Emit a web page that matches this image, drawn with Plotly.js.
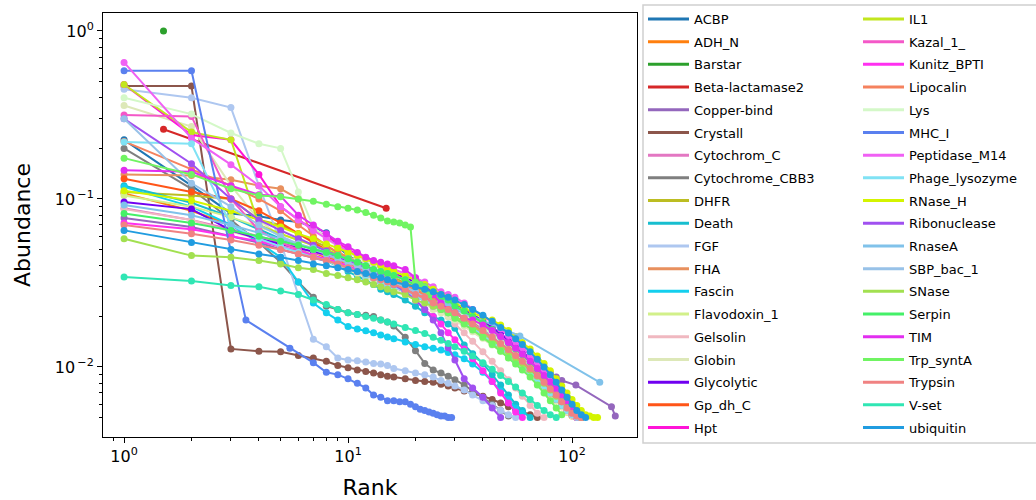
<!DOCTYPE html>
<html>
<head>
<meta charset="utf-8">
<script src="https://cdn.plot.ly/plotly-3.0.1.min.js"></script>
<style>
  html, body { margin: 0; padding: 0; background: #fff; }
  #chart { width: 1036px; height: 500px; }
</style>
</head>
<body>
<div id="chart"></div>
<script>
// Rank-abundance curves per protein family (log-log).

// Shared rank grid used by most families (ranks where a point is recorded).
const rankGrid = [1,2,3,4,5,6,7,8,9,10,11,12,13,14,15,16,18,20,22,24,26,28,30,33,36,40,44,48,52,56,60,65,70,75,80,85,90,95,100,105,110,115,120,125,130,135,140];

const families = ["ACBP","ADH_N","Barstar","Beta-lactamase2","Copper-bind","Crystall","Cytochrom_C","Cytochrome_CBB3","DHFR","Death","FGF","FHA","Fascin","Flavodoxin_1","Gelsolin","Globin","Glycolytic","Gp_dh_C","Hpt","IL1","Kazal_1_","Kunitz_BPTI","Lipocalin","Lys","MHC_I","Peptidase_M14","Phage_lysozyme","RNase_H","Ribonuclease","RnaseA","SBP_bac_1","SNase","Serpin","TIM","Trp_syntA","Trypsin","V-set","ubiquitin"];

const colors = ["#1f77b4","#ff7f0e","#2ca02c","#d62728","#9467bd","#8c564b","#e377c2","#7f7f7f","#bcbd22","#17becf","#aec7f0","#e8905e","#14cfee","#d2f08a","#f0b8c0","#dde8b8","#7000f0","#ff5518","#ff14d8","#c2e61e","#f458c8","#ff30f0","#f5825e","#d4f8c8","#5a80ef","#f060f4","#80e2f4","#d4f400","#a050f0","#80c2ea","#98c2e8","#a2e050","#44f068","#e22ef0","#70f462","#f08282","#30e6b4","#209ce0"];

// Abundance values per family, in rank order.
const ACBP = [0.225,0.12,0.082,0.079,0.075,0.073,0.068,0.063,0.052,0.046,0.043,0.041,0.039,0.037,0.036,0.035,0.033,0.031,0.029,0.027,0.025,0.024,0.022,0.020,0.019,0.017,0.0155,0.0142,0.013,0.0121,0.0112,0.0101,0.0092,0.0083,0.0075,0.0068,0.0062,0.0057,0.0053];
const ADH_N = [0.108,0.085,0.07,0.058,0.052,0.05,0.047,0.045,0.043,0.04,0.038,0.036,0.035,0.033,0.031,0.030,0.028,0.026,0.025,0.023,0.022,0.021,0.0195,0.018,0.0168,0.0152,0.0138,0.0127,0.0118,0.011,0.0101,0.0092,0.0084,0.0076,0.0069,0.0063,0.0058,0.0054,0.0051];
const Barstar_rank = [1.5];
const Barstar = [1.0];
const BetaLactamase2_rank = [1.5, 14.8];
const BetaLactamase2 = [0.26, 0.088];
const CopperBind_rank = [1,2,3,4,5,6,7,8,9,10,11,12,13,14,15,16,18,20,22,24,26,28,30,33,36,40,44,48,52,56,60,65,70,75,80,85,90,104,150,156];
const CopperBind = [0.077,0.068,0.06,0.055,0.05,0.047,0.045,0.043,0.041,0.039,0.037,0.035,0.034,0.033,0.032,0.031,0.029,0.027,0.026,0.025,0.024,0.023,0.022,0.0205,0.019,0.0175,0.016,0.0148,0.0137,0.0128,0.012,0.0112,0.0105,0.0098,0.0092,0.0087,0.0083,0.0078,0.0058,0.0051];
const Crystall = [0.47,0.47,0.0128,0.0124,0.0123,0.0117,0.0113,0.0108,0.0102,0.0099,0.0096,0.0094,0.0092,0.0090,0.0088,0.0087,0.0085,0.0083,0.0082,0.0081,0.0079,0.0077,0.0075,0.0072,0.007,0.0067,0.0064,0.0061,0.0058,0.0056,0.0054,0.0052,0.0050];
const CytochromC = [0.088,0.075,0.066,0.06,0.055,0.051,0.048,0.046,0.044,0.042,0.04,0.038,0.036,0.034,0.033,0.032,0.03,0.028,0.027,0.025,0.024,0.023,0.021,0.0195,0.018,0.0163,0.0149,0.0136,0.0125,0.0116,0.0108,0.0098,0.009,0.0082,0.0075,0.0068,0.0062,0.0058,0.0054,0.0052,0.005];
const CytochromeCBB3 = [0.20,0.115,0.075,0.055,0.042,0.032,0.026,0.023,0.022,0.021,0.0205,0.0203,0.020,0.019,0.0185,0.0175,0.015,0.0125,0.0105,0.0096,0.0092,0.0088,0.0084,0.0078,0.0072,0.0066,0.006,0.0055,0.0051];
const DHFR = [0.11,0.105,0.10,0.075,0.07,0.062,0.056,0.052,0.048,0.045,0.043,0.041,0.039,0.037,0.035,0.034,0.032,0.030,0.028,0.026,0.025,0.023,0.022,0.020,0.0185,0.0168,0.0153,0.014,0.013,0.012,0.0111,0.0101,0.0092,0.0084,0.0077,0.007,0.0064,0.0059,0.0055,0.0052,0.005];
const Death = [0.12,0.095,0.078,0.066,0.058,0.052,0.047,0.043,0.04,0.037,0.035,0.033,0.031,0.029,0.028,0.027,0.025,0.023,0.021,0.02,0.019,0.018,0.017,0.0135,0.012,0.0105,0.009,0.0078,0.0068,0.006,0.0055,0.005];
const FGF = [0.45,0.40,0.35,0.12,0.055,0.027,0.0146,0.0132,0.0113,0.011,0.0109,0.0107,0.0105,0.0104,0.0102,0.0098,0.0095,0.0092,0.009,0.0087,0.0083,0.008,0.0077,0.0073,0.0068,0.0063,0.0059,0.0055,0.0052,0.005];
const FHA = [0.14,0.138,0.13,0.12,0.115,0.10,0.056,0.048,0.044,0.041,0.039,0.037,0.035,0.034,0.032,0.031,0.029,0.027,0.025,0.024,0.023,0.022,0.021,0.0195,0.018,0.0165,0.015,0.0137,0.0126,0.0117,0.0109,0.01,0.0092,0.0084,0.0077,0.007,0.0064,0.0059,0.0055,0.0052,0.005];
const Fascin = [0.118,0.09,0.07,0.055,0.045,0.032,0.024,0.021,0.019,0.0174,0.0168,0.0164,0.016,0.0155,0.0151,0.0147,0.0141,0.0136,0.0132,0.0129,0.0126,0.0122,0.0118,0.0112,0.0104,0.0093,0.0082,0.0072,0.0064,0.0057,0.0053];
const Flavodoxin1 = [0.105,0.09,0.078,0.068,0.062,0.057,0.053,0.05,0.047,0.045,0.043,0.041,0.039,0.038,0.036,0.035,0.033,0.031,0.029,0.027,0.026,0.025,0.023,0.0215,0.02,0.018,0.0165,0.015,0.0138,0.0128,0.0119,0.0108,0.0098,0.0089,0.0081,0.0074,0.0068,0.0063,0.0059,0.0056,0.0053,0.0051];
const Gelsolin = [0.087,0.075,0.064,0.058,0.053,0.049,0.046,0.044,0.042,0.04,0.038,0.036,0.035,0.034,0.033,0.032,0.03,0.028,0.026,0.024,0.022,0.02,0.018,0.016,0.0142,0.0123,0.0108,0.0095,0.0084,0.0075,0.0067,0.0059,0.0053,0.005];
const Globin = [0.36,0.27,0.12,0.075,0.06,0.052,0.047,0.043,0.04,0.038,0.036,0.034,0.033,0.031,0.03,0.029,0.027,0.025,0.024,0.022,0.021,0.02,0.019,0.0175,0.0162,0.0148,0.0135,0.0124,0.0114,0.0106,0.0098,0.009,0.0082,0.0075,0.0069,0.0063,0.0058,0.0054,0.0051];
const Glycolytic = [0.096,0.087,0.065,0.058,0.054,0.051,0.049,0.047,0.045,0.043,0.042,0.041,0.04,0.038,0.037,0.036,0.034,0.032,0.03,0.028,0.027,0.025,0.024,0.022,0.0205,0.0188,0.0172,0.0158,0.0145,0.0134,0.0124,0.0112,0.0101,0.0091,0.0082,0.0074,0.0067,0.0061,0.0056,0.0052];
const GpDhC = [0.132,0.11,0.10,0.085,0.072,0.062,0.055,0.05,0.046,0.044,0.042,0.04,0.038,0.036,0.035,0.033,0.031,0.029,0.027,0.025,0.024,0.022,0.021,0.0195,0.018,0.0162,0.0147,0.0134,0.0123,0.0113,0.0104,0.0094,0.0085,0.0077,0.007,0.0064,0.0059,0.0055,0.0052,0.005];
const Hpt = [0.48,0.24,0.225,0.14,0.09,0.075,0.066,0.06,0.055,0.05,0.047,0.044,0.042,0.04,0.038,0.036,0.033,0.031,0.029,0.027,0.025,0.024,0.022,0.0205,0.019,0.017,0.0155,0.0142,0.013,0.012,0.0111,0.0101,0.0092,0.0083,0.0075,0.0068,0.0062,0.0057,0.0053,0.005];
const IL1 = [0.48,0.25,0.225,0.07,0.062,0.057,0.053,0.05,0.047,0.044,0.042,0.04,0.038,0.036,0.034,0.033,0.031,0.029,0.027,0.025,0.024,0.023,0.021,0.0195,0.018,0.0163,0.0148,0.0136,0.0125,0.0115,0.0107,0.0097,0.0088,0.008,0.0073,0.0067,0.0061,0.0057,0.0053,0.0051,0.005];
const Kazal1 = [0.316,0.31,0.10,0.065,0.055,0.05,0.046,0.043,0.041,0.039,0.037,0.035,0.034,0.032,0.031,0.03,0.028,0.026,0.025,0.023,0.022,0.021,0.02,0.0185,0.0172,0.0157,0.0143,0.0131,0.012,0.0111,0.0103,0.0094,0.0086,0.0078,0.0071,0.0065,0.006,0.0055,0.0052,0.005];
const KunitzBPTI = [0.072,0.066,0.06,0.056,0.052,0.049,0.046,0.044,0.042,0.04,0.038,0.036,0.034,0.032,0.031,0.03,0.028,0.025,0.022,0.02,0.018,0.016,0.0145,0.0128,0.0112,0.0095,0.0082,0.007,0.0061,0.0054,0.005];
const Lipocalin = [0.22,0.15,0.12,0.10,0.085,0.07,0.06,0.053,0.048,0.045,0.042,0.04,0.038,0.036,0.034,0.033,0.031,0.029,0.027,0.025,0.024,0.023,0.021,0.0195,0.018,0.0164,0.0149,0.0137,0.0126,0.0116,0.0107,0.0097,0.0088,0.008,0.0073,0.0067,0.0061,0.0057,0.0053,0.0051,0.005];
const Lys = [0.40,0.32,0.247,0.213,0.20,0.11,0.068,0.058,0.052,0.048,0.045,0.042,0.04,0.038,0.036,0.035,0.033,0.031,0.029,0.027,0.025,0.024,0.022,0.0205,0.019,0.0172,0.0157,0.0143,0.0131,0.0121,0.0112,0.0102,0.0093,0.0085,0.0078,0.0071,0.0065,0.006,0.0056,0.0053,0.0051];
const MHCI_rank = [1,2,3.5,5.5,7,8,9,10,11,12,13,14,15,16,17,18,19,20,21,22,23,24,25,26,27,28,29];
const MHCI = [0.58,0.58,0.019,0.0129,0.0106,0.0093,0.009,0.0085,0.008,0.0075,0.0068,0.0066,0.0063,0.0063,0.0062,0.0062,0.006,0.0058,0.0056,0.0055,0.0054,0.0053,0.0052,0.0051,0.0051,0.005,0.005];
const PeptidaseM14 = [0.65,0.23,0.16,0.12,0.09,0.075,0.065,0.058,0.053,0.049,0.046,0.044,0.042,0.04,0.039,0.038,0.036,0.034,0.032,0.03,0.028,0.027,0.026,0.024,0.022,0.02,0.0185,0.0168,0.0154,0.0141,0.013,0.0117,0.0105,0.0094,0.0084,0.0075,0.0067,0.0061,0.0056,0.0052,0.005];
const PhageLysozyme = [0.218,0.213,0.07,0.058,0.052,0.048,0.045,0.043,0.041,0.039,0.037,0.035,0.034,0.032,0.031,0.03,0.028,0.026,0.025,0.023,0.022,0.021,0.02,0.0185,0.017,0.0155,0.0141,0.0129,0.0119,0.011,0.0102,0.0093,0.0085,0.0077,0.007,0.0064,0.0059,0.0055,0.0052];
const RNaseH = [0.112,0.098,0.085,0.075,0.068,0.062,0.058,0.054,0.051,0.048,0.046,0.044,0.042,0.04,0.038,0.037,0.035,0.033,0.031,0.029,0.027,0.026,0.024,0.0225,0.021,0.0198,0.019,0.0178,0.0165,0.0152,0.014,0.0128,0.0116,0.0105,0.0095,0.0085,0.0077,0.007,0.0064,0.0059,0.0055,0.0052,0.0051,0.005,0.005];
const Ribonuclease = [0.30,0.162,0.10,0.075,0.065,0.058,0.053,0.049,0.046,0.043,0.041,0.039,0.037,0.035,0.033,0.031,0.028,0.025,0.022,0.019,0.016,0.013,0.011,0.0085,0.0075,0.0066,0.0057,0.005];
const RnaseA_rank = [1,2,3,4,5,6,7,8,9,10,11,12,13,14,15,16,18,20,22,24,26,28,30,58.5,133];
const RnaseA = [0.092,0.08,0.07,0.063,0.058,0.054,0.051,0.048,0.046,0.044,0.042,0.04,0.038,0.037,0.036,0.035,0.033,0.031,0.029,0.027,0.025,0.024,0.022,0.0153,0.0081];
const SBPbac1 = [0.30,0.124,0.09,0.07,0.06,0.054,0.05,0.047,0.044,0.042,0.04,0.038,0.036,0.034,0.033,0.032,0.03,0.028,0.026,0.024,0.023,0.022,0.021,0.0195,0.018,0.0165,0.015,0.0138,0.0127,0.0117,0.0108,0.0099,0.009,0.0082,0.0075,0.0068,0.0062,0.0057,0.0053,0.005];
const SNase = [0.058,0.046,0.045,0.043,0.041,0.039,0.038,0.036,0.035,0.034,0.033,0.032,0.031,0.03,0.029,0.028,0.027,0.025,0.024,0.023,0.022,0.021,0.02,0.0188,0.0175,0.016,0.0146,0.0134,0.0123,0.0113,0.0105,0.0096,0.0088,0.008,0.0073,0.0067,0.0062,0.0058,0.0054,0.0052,0.005];
const Serpin = [0.082,0.072,0.065,0.06,0.056,0.053,0.05,0.048,0.046,0.044,0.042,0.04,0.038,0.037,0.036,0.035,0.033,0.031,0.029,0.027,0.026,0.025,0.023,0.0215,0.02,0.0183,0.0167,0.0152,0.0139,0.0128,0.0118,0.0107,0.0097,0.0088,0.008,0.0073,0.0067,0.0062,0.0058,0.0054,0.0051];
const TIM = [0.148,0.145,0.12,0.106,0.104,0.08,0.07,0.062,0.056,0.052,0.048,0.045,0.043,0.042,0.041,0.04,0.038,0.034,0.03,0.027,0.024,0.022,0.021,0.0195,0.019,0.0178,0.0165,0.0152,0.014,0.0129,0.0119,0.0108,0.0098,0.0089,0.0081,0.0074,0.0068,0.0063,0.0058,0.0054,0.0051];
const TrpSyntA_rank = [1,2,3,4,5,6,7,8,9,10,11,12,13,14,15,16,17,18,19,20,21,22,23,24,26,28,30,33,36,40,44,48,52,56,60,65,70,75,80,85,90];
const TrpSyntA = [0.175,0.14,0.115,0.105,0.103,0.1,0.097,0.093,0.09,0.088,0.086,0.083,0.08,0.077,0.074,0.073,0.072,0.07,0.068,0.032,0.031,0.030,0.027,0.024,0.022,0.021,0.0195,0.018,0.0166,0.015,0.0136,0.0124,0.0113,0.0104,0.0096,0.0087,0.0078,0.007,0.0063,0.0057,0.0052];
const Trypsin = [0.07,0.062,0.057,0.053,0.05,0.047,0.045,0.043,0.041,0.039,0.037,0.036,0.034,0.033,0.032,0.031,0.029,0.027,0.026,0.024,0.023,0.022,0.021,0.0195,0.018,0.0165,0.0151,0.0138,0.0127,0.0117,0.0108,0.0098,0.0089,0.0081,0.0074,0.0068,0.0062,0.0057,0.0053,0.0051,0.005];
const Vset = [0.0343,0.0325,0.0305,0.030,0.0283,0.027,0.025,0.0235,0.022,0.021,0.0205,0.02,0.0195,0.019,0.0185,0.018,0.0172,0.0165,0.0158,0.015,0.0144,0.0138,0.0132,0.0124,0.0116,0.0106,0.0097,0.0089,0.0082,0.0076,0.007,0.0064,0.0059,0.0055,0.0052,0.005];
const ubiquitin = [0.065,0.055,0.05,0.047,0.045,0.043,0.041,0.04,0.039,0.038,0.037,0.036,0.035,0.034,0.033,0.032,0.031,0.03,0.029,0.028,0.027,0.026,0.025,0.0235,0.022,0.0203,0.0187,0.0172,0.0159,0.0147,0.0136,0.0123,0.0111,0.01,0.009,0.0081,0.0073,0.0066,0.006,0.0055,0.0052,0.005];

// Abundance arrays in family order; families without their own rank list use rankGrid.
const values = [ACBP, ADH_N, Barstar, BetaLactamase2, CopperBind, Crystall, CytochromC, CytochromeCBB3, DHFR, Death, FGF, FHA, Fascin, Flavodoxin1, Gelsolin, Globin, Glycolytic, GpDhC, Hpt, IL1, Kazal1, KunitzBPTI, Lipocalin, Lys, MHCI, PeptidaseM14, PhageLysozyme, RNaseH, Ribonuclease, RnaseA, SBPbac1, SNase, Serpin, TIM, TrpSyntA, Trypsin, Vset, ubiquitin];
const ownRanks = {
  "Barstar": Barstar_rank,
  "Beta-lactamase2": BetaLactamase2_rank,
  "Copper-bind": CopperBind_rank,
  "MHC_I": MHCI_rank,
  "RnaseA": RnaseA_rank,
  "Trp_syntA": TrpSyntA_rank
};

const xTickVals = [1, 10, 100];
const xTickText = ["10<sup>0</sup>", "10<sup>1</sup>", "10<sup>2</sup>"];
const yTickVals = [0.01, 0.1, 1];
const yTickText = ["10<sup>\u2009\u22122</sup>", "10<sup>\u2009\u22121</sup>", "10<sup>0</sup>"];
const xMinor = [0.9, 2, 3, 4, 5, 6, 7, 8, 9, 20, 30, 40, 50, 60, 70, 80, 90, 200];
const yMinor = [0.005, 0.006, 0.007, 0.008, 0.009, 0.02, 0.03, 0.04, 0.05, 0.06, 0.07, 0.08, 0.09, 0.2, 0.3, 0.4, 0.5, 0.6, 0.7, 0.8, 0.9];

const traces = [];
const legendEntries = [];
families.forEach((name, i) => {
  const y = values[i];
  const x = ownRanks[name] || rankGrid.slice(0, y.length);
  traces.push({
    type: "scatter", mode: "lines+markers", name: name,
    x: x, y: y,
    legendgroup: name, showlegend: false,
    line: { color: colors[i], width: 2 },
    marker: { color: colors[i], size: 7 },
    hoverinfo: "skip"
  });
  legendEntries.push({
    type: "scatter", mode: "lines", name: name,
    x: [null], y: [null],
    legendgroup: name, showlegend: true,
    legend: i < 19 ? "legend" : "legend2",
    line: { color: colors[i], width: 3 },
    hoverinfo: "skip"
  });
});

const L = 103, R = 637, T = 13, B = 437, W = 1036, H = 500;
const px2paperX = p => (p - L) / (R - L);
const px2paperY = p => (B - p) / (B - T);

const legendFont = { family: "DejaVu Sans", size: 13, color: "#000" };

const legendBase = {
  xanchor: "left", yanchor: "top", y: px2paperY(4),
  bgcolor: "rgba(0,0,0,0)", borderwidth: 0, maxheight: 480,
  font: legendFont, tracegroupgap: 2.8, itemwidth: 41,
  itemclick: false, itemdoubleclick: false
};

const layout = {
  width: W, height: H,
  margin: { l: L, r: W - R, t: T, b: H - B, pad: 0, autoexpand: false },
  paper_bgcolor: "#fff", plot_bgcolor: "#fff",
  font: { family: "DejaVu Sans", color: "#000" },
  showlegend: true,
  hovermode: false,
  xaxis: {
    type: "log", range: [-0.094, 2.29],
    showgrid: false, zeroline: false,
    showline: true, linecolor: "#000", linewidth: 1, mirror: true,
    ticks: "outside", ticklen: 5, tickwidth: 1, tickcolor: "#000",
    tickmode: "array", tickvals: xTickVals, ticktext: xTickText,
    tickfont: { family: "DejaVu Sans", size: 16, color: "#000" },
    minor: { tickmode: "array", tickvals: xMinor, ticks: "outside", ticklen: 3, tickwidth: 1, tickcolor: "#000", showgrid: false },
    title: { text: "Rank", font: { family: "DejaVu Sans", size: 22, color: "#000" }, standoff: 16 },
    automargin: false
  },
  yaxis: {
    type: "log", range: [-2.417, 0.107],
    showgrid: false, zeroline: false,
    showline: true, linecolor: "#000", linewidth: 1, mirror: true,
    ticks: "outside", ticklen: 5, tickwidth: 1, tickcolor: "#000",
    tickmode: "array", tickvals: yTickVals, ticktext: yTickText,
    tickfont: { family: "DejaVu Sans", size: 16, color: "#000" },
    minor: { tickmode: "array", tickvals: yMinor, ticks: "outside", ticklen: 3, tickwidth: 1, tickcolor: "#000", showgrid: false },
    title: { text: "Abundance", font: { family: "DejaVu Sans", size: 22, color: "#000" }, standoff: 18 },
    automargin: false
  },
  legend: Object.assign({}, legendBase, { x: px2paperX(643) }),
  legend2: Object.assign({}, legendBase, { x: px2paperX(858) }),
  shapes: [{
    type: "rect", xref: "paper", yref: "paper",
    x0: px2paperX(643), x1: px2paperX(1060), y0: px2paperY(443), y1: px2paperY(5),
    line: { color: "#d0d0d0", width: 1.5 }, fillcolor: "rgba(255,255,255,0.8)", layer: "below"
  }]
};

Plotly.newPlot("chart", traces.concat(legendEntries), layout, { displayModeBar: false, staticPlot: true });
</script>
</body>
</html>
